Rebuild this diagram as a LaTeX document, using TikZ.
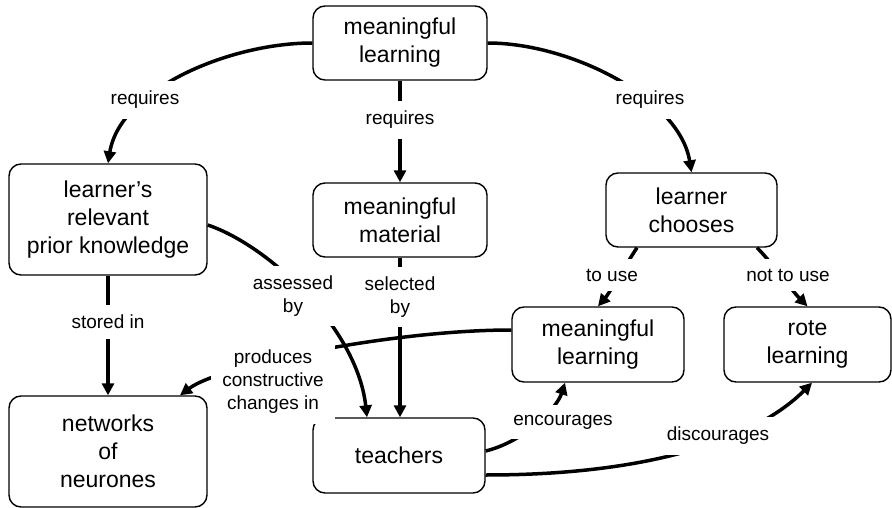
\documentclass[tikz,border=0pt]{standalone}
\usepackage{fontspec}
\setmainfont{Liberation Sans}
\usetikzlibrary{arrows.meta,calc}
\begin{document}
\begin{tikzpicture}[x=1pt,y=-1pt,
  concept/.style={draw=black,line width=1.4pt,rounded corners=12pt,align=center,
    font=\fontsize{23}{28}\selectfont,inner sep=0pt},
  lbl/.style={fill=white,align=center,font=\fontsize{19}{23}\selectfont,
    inner xsep=10pt,inner ysep=10pt},
  link/.style={line width=3.5pt,-{Triangle[length=12pt,width=12pt]}}]
\useasboundingbox[fill=white] (0,0) rectangle (892,508);
% concepts
\node[concept,minimum width=174pt,minimum height=74pt] (mlt) at (400,43) {meaningful\\learning};
\node[concept,minimum width=198pt,minimum height=111pt] (lrpk) at (108,219.5) {learner’s\\relevant\\prior knowledge};
\node[concept,minimum width=174pt,minimum height=74pt] (mm) at (400,220) {meaningful\\material};
\node[concept,minimum width=171pt,minimum height=74pt] (lc) at (691.5,210) {learner\\chooses};
\node[concept,minimum width=172pt,minimum height=75pt] (ml2) at (598,344.5) {meaningful\\learning};
\node[concept,minimum width=167pt,minimum height=75pt] (rl) at (807.5,344.5) {rote\\learning};
\node[concept,minimum width=198pt,minimum height=111pt] (nn) at (108,451.5) {networks\\of\\neurones};
\node[concept,minimum width=172pt,minimum height=75pt] (teach) at (399,455.5) {teachers};
% connectors
\draw[link] (mlt.west) .. controls +(-83,0) and +(12,-74) .. (lrpk.north);
\draw[link] (mlt.south) -- (mm.north);
\draw[link] (mlt.east) .. controls +(83,0) and +(-12,-74) .. (lc.north);
\draw[link] ($(lrpk.east)+(0,5.5)$) .. controls +(60,20) and +(-10,-90) .. ($(teach.north)+(-32,0)$);
\draw[link] (lrpk.south) -- (nn.north);
\draw[link] (mm.south) -- (mm.south |- teach.north);
\draw[link] ($(ml2.west)+(0,-14.5)$) .. controls +(-120,0) and +(40,-30) .. ($(nn.north)+(72,0)$);
\draw[link] ($(lc.south)+(-54.5,0)$) .. controls +(-10,15) and +(12,-14) .. (ml2.north);
\draw[link] ($(lc.south)+(65.5,0)$) .. controls +(15,15) and +(-15,-15) .. (rl.north);
\draw[link] ($(teach.east)+(0,-4.5)$) .. controls +(40,-10) and +(-8,25) .. ($(ml2.south)+(-33,0)$);
\draw[link] ($(teach.east)+(0,19.5)$) .. controls +(180,0) and +(-50,50) .. ($(rl.south)+(4.5,0)$);
% labels
\node[lbl] (l1) at (145,100) {requires};
\node[lbl] (l2) at (400,120) {requires};
\node[lbl] (l3) at (650,100) {requires};
\node[lbl] (l4) at (293,296) {assessed\\by};
\node[lbl] (l5) at (400,297) {selected\\by};
\node[lbl] (l6) at (108,322) {stored in};
\node[lbl,inner xsep=11pt] (l7) at (273,382) {produces\\constructive\\changes in};
\node[lbl] (l8) at (612,275) {to use};
\node[lbl] (l9) at (788,275) {not to use};
\node[lbl] (l10) at (563,422) {encourages};
\node[lbl] (l11) at (718,436) {discourages};
\end{tikzpicture}
\end{document}
